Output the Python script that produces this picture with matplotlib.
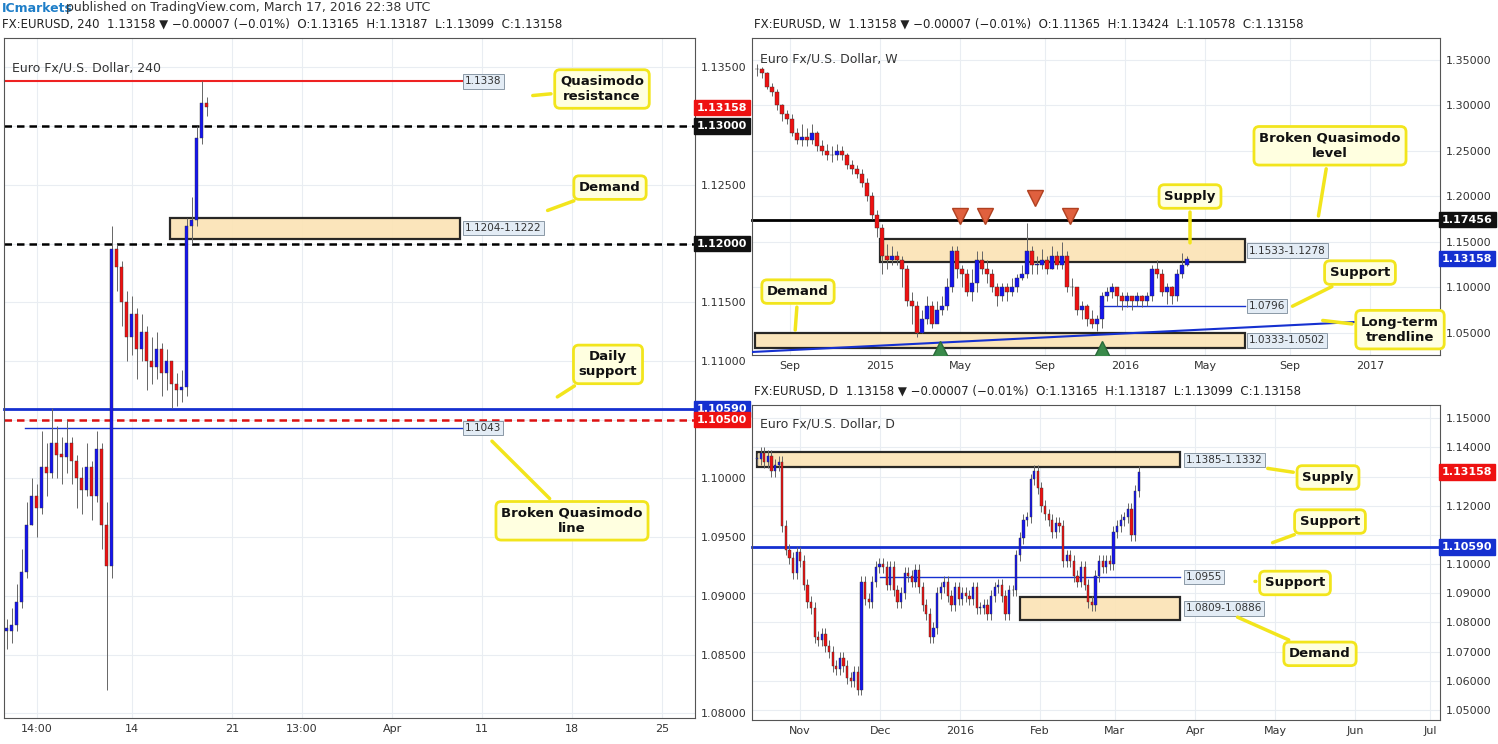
import matplotlib
matplotlib.use("Agg")
import matplotlib.pyplot as plt
import matplotlib.transforms as mt
from matplotlib.patches import Rectangle

W, H = 1498, 744
fig = plt.figure(figsize=(W/100, H/100), dpi=100)
fig.patch.set_facecolor("white")

# ---------------- data ----------------
h4_close = [1.0870,1.0875,1.0895,1.0920,1.0960,1.0985,1.0975,1.1010,1.1005,1.1030,1.1020,1.1018,
            1.1030,1.1015,1.1000,1.0990,1.1010,1.0985,1.1025,1.0960,1.0925,1.1195,1.1180,1.1150,
            1.1120,1.1140,1.1110,1.1125,1.1100,1.1095,1.1110,1.1090,1.1100,1.1080,1.1075,1.1078,
            1.1215,1.1220,1.1290,1.1320,1.1316]
h4_high = [1.0880,1.0890,1.0910,1.0940,1.0980,1.1000,1.0995,1.1040,1.1030,1.1060,1.1045,1.1035,
           1.1050,1.1035,1.1020,1.1010,1.1030,1.1015,1.1040,1.1030,1.0980,1.1215,1.1200,1.1185,
           1.1160,1.1155,1.1145,1.1140,1.1130,1.1120,1.1125,1.1115,1.1110,1.1100,1.1090,1.1092,
           1.1222,1.1240,1.1300,1.1338,1.1325]
h4_low = [1.0855,1.0860,1.0870,1.0890,1.0915,1.0960,1.0950,1.0970,1.0985,1.1000,1.1000,1.0995,
          1.1005,1.0995,1.0975,1.0970,1.0985,1.0965,1.0980,1.0940,1.0820,1.0915,1.1160,1.1130,
          1.1100,1.1105,1.1085,1.1100,1.1075,1.1080,1.1085,1.1070,1.1075,1.1060,1.1062,1.1065,
          1.1070,1.1200,1.1215,1.1285,1.1309]
h4_ticks = [6, 25, 45, 59, 77, 95, 113, 131]
h4_labels = ["14:00", "14", "21", "13:00", "Apr", "11", "18", "25"]

w_close = [1.340,1.335,1.320,1.315,1.300,1.290,1.285,1.270,1.262,1.265,1.262,1.270,1.255,1.250,1.245,
           1.245,1.250,1.245,1.235,1.230,1.225,1.215,1.200,1.180,1.165,1.135,1.130,1.135,1.130,1.120,
           1.085,1.080,1.050,1.065,1.080,1.060,1.075,1.080,1.100,1.140,1.120,1.115,1.095,1.105,1.130,
           1.120,1.115,1.100,1.090,1.100,1.095,1.100,1.110,1.115,1.140,1.125,1.125,1.130,1.120,1.135,
           1.125,1.135,1.100,1.100,1.075,1.080,1.065,1.060,1.065,1.090,1.095,1.100,1.090,1.085,1.090,
           1.085,1.090,1.085,1.090,1.120,1.115,1.095,1.100,1.090,1.115,1.125,1.1316]
w_high = [1.345,1.342,1.337,1.325,1.318,1.302,1.295,1.290,1.275,1.280,1.275,1.280,1.272,1.262,1.257,
          1.255,1.258,1.255,1.248,1.240,1.235,1.230,1.220,1.205,1.185,1.170,1.148,1.145,1.140,1.135,
          1.125,1.095,1.085,1.075,1.090,1.085,1.085,1.090,1.110,1.145,1.145,1.125,1.120,1.120,1.140,
          1.140,1.130,1.120,1.105,1.105,1.105,1.110,1.115,1.125,1.171,1.145,1.135,1.142,1.135,1.145,
          1.140,1.150,1.140,1.110,1.100,1.085,1.082,1.075,1.070,1.095,1.100,1.105,1.100,1.095,1.095,
          1.090,1.095,1.092,1.095,1.125,1.130,1.120,1.105,1.102,1.120,1.138,1.134]
w_low = [1.332,1.330,1.318,1.310,1.295,1.283,1.280,1.266,1.258,1.255,1.255,1.258,1.250,1.245,1.240,
         1.238,1.240,1.240,1.230,1.225,1.220,1.210,1.195,1.175,1.155,1.115,1.120,1.125,1.125,1.100,
         1.080,1.060,1.046,1.050,1.060,1.055,1.062,1.070,1.075,1.095,1.110,1.100,1.090,1.085,1.095,
         1.115,1.105,1.095,1.080,1.085,1.085,1.090,1.095,1.108,1.110,1.115,1.115,1.120,1.115,1.120,
         1.120,1.120,1.095,1.090,1.070,1.065,1.058,1.055,1.052,1.055,1.085,1.088,1.080,1.075,1.078,
         1.075,1.080,1.078,1.080,1.085,1.110,1.090,1.082,1.082,1.085,1.110,1.124]
w_ticks = [6.6, 24.6, 40.6, 57.6, 73.6, 89.6, 106.6, 122.6]
w_labels = ["Sep", "2015", "May", "Sep", "2016", "May", "Sep", "2017"]

d_close = [1.136,1.138,1.135,1.137,1.132,1.134,1.135,1.113,1.105,1.102,1.097,1.104,1.101,1.093,1.087,
           1.085,1.075,1.074,1.076,1.072,1.070,1.065,1.064,1.068,1.065,1.061,1.060,1.063,1.057,1.094,
           1.088,1.087,1.094,1.099,1.100,1.099,1.093,1.099,1.091,1.087,1.090,1.097,1.096,1.094,1.098,
           1.092,1.086,1.083,1.075,1.078,1.090,1.092,1.094,1.089,1.086,1.092,1.088,1.090,1.089,1.088,
           1.092,1.085,1.085,1.086,1.083,1.089,1.092,1.093,1.089,1.083,1.091,1.091,1.103,1.109,1.115,
           1.116,1.129,1.132,1.126,1.120,1.117,1.115,1.111,1.114,1.113,1.101,1.103,1.101,1.096,1.094,
           1.099,1.093,1.087,1.086,1.096,1.101,1.099,1.101,1.100,1.111,1.113,1.115,1.116,1.119,1.110,
           1.125,1.1316]
d_ticks = [11.9, 34.2, 56.4, 78.6, 99.4, 121.7, 143.9, 166.1, 187.0]
d_labels = ["Nov", "Dec", "2016", "Feb", "Mar", "Apr", "May", "Jun", "Jul"]

UP, DN = "#1515f0", "#ee1111"


def px_axes(x0, y0, x1, y1):
    return fig.add_axes([x0/W, 1-y1/H, (x1-x0)/W, (y1-y0)/H])


def candles(ax, closes, highs=None, lows=None, width=0.6):
    prev = closes[0]
    for i, c in enumerate(closes):
        o = prev
        hi = highs[i] if highs else max(o, c) + 0.002
        lo = lows[i] if lows else min(o, c) - 0.002
        col = UP if c >= o else DN
        ax.vlines(i, lo, hi, color="#666666", lw=0.7, zorder=3)
        ax.add_patch(Rectangle((i-width/2, min(o, c)), width, max(abs(c-o), 0.0003),
                               facecolor=col, edgecolor="#333333", lw=0.3, zorder=4))
        prev = c


def style(ax, xlim, ylim, yt, skip, xt, xtl):
    ax.set_xlim(*xlim); ax.set_ylim(*ylim)
    ax.yaxis.tick_right()
    ax.set_yticks(yt)
    ax.set_yticklabels(["" if any(abs(v-s) < 1e-9 for s in skip) else f"{v:.5f}" for v in yt],
                       fontsize=8, color="#333")
    ax.set_xticks(xt); ax.set_xticklabels(xtl, fontsize=8, color="#333")
    ax.tick_params(length=0, pad=4)
    ax.grid(color="#e9edf2", lw=0.8)
    for s in ax.spines.values():
        s.set_color("#555"); s.set_linewidth(0.8)


def hl(ax, y, x0, x1, **kw):
    ax.plot([x0, x1], [y, y], transform=mt.blended_transform_factory(ax.transAxes, ax.transData),
            clip_on=False, **kw)


def box(ax, x0, x1, y0, y1):
    ax.add_patch(Rectangle((x0, y0), x1-x0, y1-y0,
                 transform=mt.blended_transform_factory(ax.transAxes, ax.transData),
                 facecolor="#fbe3b4", edgecolor="#111", lw=1.6, zorder=2, alpha=0.9))


def tag(ax, x, y, s, fc="#e3ecf5", ec="#7a8a99", tc="#333"):
    ax.text(x, y, s, transform=mt.blended_transform_factory(ax.transAxes, ax.transData),
            fontsize=7.5, color=tc, va="center", ha="left", zorder=6,
            bbox=dict(boxstyle="square,pad=0.2", fc=fc, ec=ec, lw=0.6))


def axlabel(ax, y, s, fc):
    ax.text(1.003, y, s, transform=mt.blended_transform_factory(ax.transAxes, ax.transData),
            fontsize=8, color="white", fontweight="bold", va="center", ha="left", zorder=7,
            clip_on=False, bbox=dict(boxstyle="square,pad=0.25", fc=fc, ec=fc))


def callout(ax, tx, ty, s, ax_, ay_):
    ax.annotate(s, xy=(ax_, ay_), xytext=(tx, ty), xycoords="axes fraction",
                textcoords="axes fraction", fontsize=9.5, fontweight="bold", color="#111",
                ha="center", va="center", zorder=8, annotation_clip=False,
                bbox=dict(boxstyle="round,pad=0.4", fc="#ffffe0", ec="#f2e51c", lw=2),
                arrowprops=dict(arrowstyle="-", color="#f2e51c", lw=2.5))


fig.text(2/W, 1-8/H, "ICmarkets", fontsize=9, color="#1e7ec8", fontweight="bold", va="center")
fig.text(66/W, 1-8/H, "published on TradingView.com, March 17, 2016 22:38 UTC", fontsize=9,
         color="#333", va="center")

# ---------------- Panel 1: 4H ----------------
a1 = px_axes(4, 38, 695, 718)
candles(a1, h4_close, h4_high, h4_low)
yt = [round(1.08 + 0.005*i, 4) for i in range(12)]
style(a1, (-0.5, 137.5), (1.0796, 1.1375), yt, [1.13, 1.12, 1.105], h4_ticks, h4_labels)
f1 = lambda px: (px-4)/691
hl(a1, 1.1338, f1(5), f1(462), color="#ee2222", lw=1.5)
tag(a1, f1(465), 1.1338, "1.1338")
hl(a1, 1.1300, 0, 1, color="black", lw=1.8, ls=(0, (3, 2)))
box(a1, f1(170), f1(460), 1.1204, 1.1222)
tag(a1, f1(465), 1.1213, "1.1204-1.1222")
hl(a1, 1.1200, 0, 1, color="black", lw=1.8, ls=(0, (3, 2)))
hl(a1, 1.1059, 0, 1, color="#1530d0", lw=2)
hl(a1, 1.1050, 0, 1, color="#dd1111", lw=1.8, ls=(0, (3, 2)))
hl(a1, 1.1043, f1(25), f1(462), color="#1530d0", lw=1)
tag(a1, f1(465), 1.1043, "1.1043")
axlabel(a1, 1.13158, "1.13158", "#ee1111")
axlabel(a1, 1.1300, "1.13000", "#111")
axlabel(a1, 1.1200, "1.12000", "#111")
axlabel(a1, 1.1059, "1.10590", "#1530d0")
axlabel(a1, 1.1050, "1.10500", "#ee1111")
callout(a1, f1(602), 0.925, "Quasimodo\nresistance", f1(530), 0.915)
callout(a1, f1(610), 0.78, "Demand", f1(545), 0.745)
callout(a1, f1(608), 0.52, "Daily\nsupport", f1(555), 0.47)
callout(a1, f1(572), 0.29, "Broken Quasimodo\nline", f1(490), 0.41)
a1.text(0.012, 0.965, "Euro Fx/U.S. Dollar, 240", transform=a1.transAxes, fontsize=9, color="#333", va="top")
fig.text(2/W, 1-24/H, "FX:EURUSD, 240  1.13158 ▼ −0.00007 (−0.01%)  O:1.13165  H:1.13187  L:1.13099  C:1.13158",
         fontsize=8.5, color="#222", va="center")

# ---------------- Panel 2: Weekly ----------------
a2 = px_axes(752, 38, 1440, 355)
candles(a2, w_close, w_high, w_low, width=0.65)
yt = [round(1.05 + 0.05*i, 4) for i in range(7)]
style(a2, (-1, 136.6), (1.0257, 1.374), yt, [], w_ticks, w_labels)
f2 = lambda px: (px-752)/688
hl(a2, 1.17456, 0, 1, color="black", lw=2)
box(a2, f2(880), f2(1245), 1.1278, 1.1533)
tag(a2, f2(1249), 1.1405, "1.1533-1.1278")
hl(a2, 1.0796, f2(1100), f2(1245), color="#1530d0", lw=1)
tag(a2, f2(1249), 1.0796, "1.0796")
box(a2, f2(755), f2(1245), 1.0333, 1.0502)
tag(a2, f2(1249), 1.0417, "1.0333-1.0502")
a2.plot([0, 1], [1.029, 1.0666], transform=mt.blended_transform_factory(a2.transAxes, a2.transData),
        color="#1530d0", lw=1.5, zorder=5)
for xp, yv in [(960, 1.178), (985, 1.178), (1035, 1.198), (1070, 1.178)]:
    a2.plot(f2(xp), yv, marker="v", ms=11, color="#e0603e", mec="#b04020",
            transform=mt.blended_transform_factory(a2.transAxes, a2.transData), zorder=6)
for xp, yv in [(940, 1.032), (1102, 1.032)]:
    a2.plot(f2(xp), yv, marker="^", ms=11, color="#3a8a4a", mec="#2a6a3a",
            transform=mt.blended_transform_factory(a2.transAxes, a2.transData), zorder=6)
axlabel(a2, 1.17456, "1.17456", "#111")
axlabel(a2, 1.13158, "1.13158", "#1530d0")
callout(a2, f2(1190), 0.5, "Supply", f2(1190), 0.345)
callout(a2, f2(1330), 0.66, "Broken Quasimodo\nlevel", f2(1318), 0.43)
callout(a2, f2(1360), 0.26, "Support", f2(1290), 0.15)
callout(a2, f2(798), 0.2, "Demand", f2(795), 0.07)
callout(a2, f2(1400), 0.08, "Long-term\ntrendline", f2(1320), 0.11)
a2.text(0.012, 0.955, "Euro Fx/U.S. Dollar, W", transform=a2.transAxes, fontsize=9, color="#333", va="top")
fig.text(754/W, 1-24/H, "FX:EURUSD, W  1.13158 ▼ −0.00007 (−0.01%)  O:1.11365  H:1.13424  L:1.10578  C:1.13158",
         fontsize=8.5, color="#222", va="center")

# ---------------- Panel 3: Daily ----------------
a3 = px_axes(752, 405, 1440, 720)
candles(a3, d_close, None, None, width=0.6)
yt = [round(1.05 + 0.01*i, 4) for i in range(11)]
style(a3, (-1.4, 189.7), (1.0466, 1.1545), yt, [1.13, 1.11], d_ticks, d_labels)
f3 = lambda px: (px-752)/688
box(a3, f3(757), f3(1180), 1.1332, 1.1385)
tag(a3, f3(1186), 1.1358, "1.1385-1.1332")
hl(a3, 1.1059, 0, 1, color="#1530d0", lw=2)
hl(a3, 1.0955, f3(880), f3(1180), color="#1530d0", lw=1)
tag(a3, f3(1186), 1.0955, "1.0955")
box(a3, f3(1020), f3(1180), 1.0809, 1.0886)
tag(a3, f3(1186), 1.0848, "1.0809-1.0886")
axlabel(a3, 1.13158, "1.13158", "#ee1111")
axlabel(a3, 1.1059, "1.10590", "#1530d0")
callout(a3, f3(1328), 0.77, "Supply", f3(1265), 0.8)
callout(a3, f3(1330), 0.63, "Support", f3(1270), 0.56)
callout(a3, f3(1295), 0.435, "Support", f3(1255), 0.44)
callout(a3, f3(1320), 0.21, "Demand", f3(1235), 0.33)
a3.text(0.012, 0.96, "Euro Fx/U.S. Dollar, D", transform=a3.transAxes, fontsize=9, color="#333", va="top")
fig.text(754/W, 1-391/H, "FX:EURUSD, D  1.13158 ▼ −0.00007 (−0.01%)  O:1.13165  H:1.13187  L:1.13099  C:1.13158",
         fontsize=8.5, color="#222", va="center")

fig.savefig("out.png", dpi=100)
